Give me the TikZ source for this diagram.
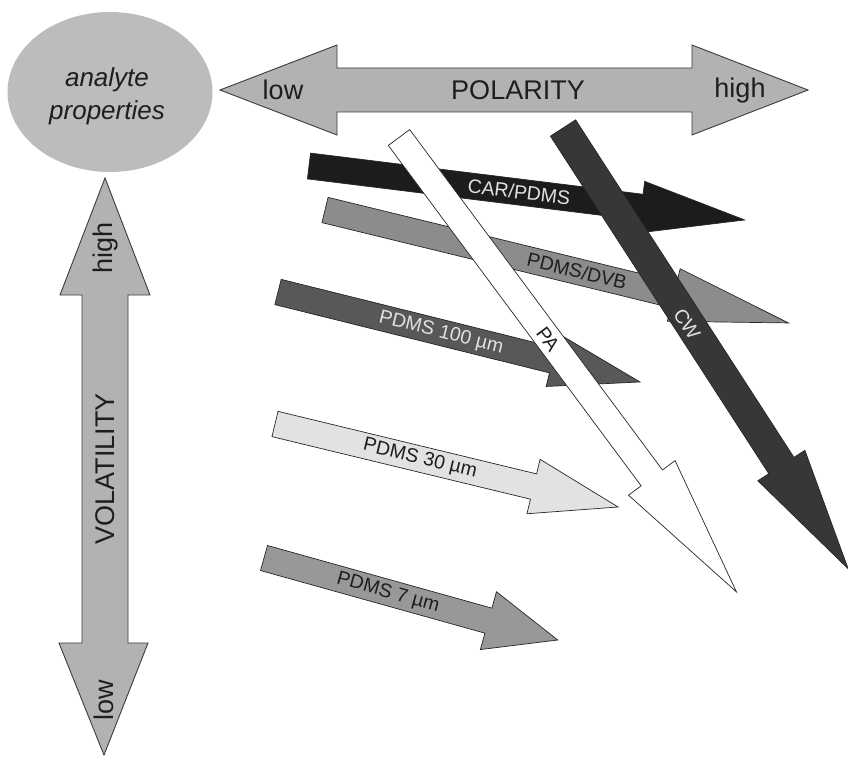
\documentclass[tikz,border=0pt]{standalone}
\usepackage{fontspec}
\setmainfont{Liberation Sans}
\usetikzlibrary{shapes.geometric}
\definecolor{axisfill}{RGB}{178,178,178}
\definecolor{axisline}{RGB}{60,60,60}
\definecolor{blobfill}{RGB}{188,188,188}
\definecolor{carfill}{RGB}{28,28,28}
\definecolor{dvbfill}{RGB}{140,140,140}
\definecolor{hundredfill}{RGB}{88,88,88}
\definecolor{thirtyfill}{RGB}{226,226,226}
\definecolor{sevenfill}{RGB}{152,152,152}
\definecolor{cwfill}{RGB}{55,55,55}
\definecolor{lighttext}{RGB}{225,225,225}
\definecolor{darktext}{RGB}{30,30,30}
\newcommand{\fiberarrow}[8]{%
  \begin{scope}[shift={(#2,#3)},rotate=#4]
    \path[#1] (0,#6) -- ({#5-#7},#6) -- ({#5-#7},#8) -- (#5,0) -- ({#5-#7},-#8) -- ({#5-#7},-#6) -- (0,-#6) -- cycle;
  \end{scope}}
\begin{document}
\begin{tikzpicture}[x=1pt,y=-1pt,
  axisarrow/.style={fill=axisfill,draw=axisline,line width=0.9pt,line join=miter},
  fiber/.style={draw=black!85,line width=0.7pt,line join=miter},
  axlbl/.style={font=\fontsize{27}{32}\selectfont,inner sep=0pt,text=darktext},
  lbl/.style={font=\fontsize{19.5}{23}\selectfont,inner sep=0pt}]
\useasboundingbox (0,0) rectangle (848,757);

% analyte properties blob
\node[ellipse,fill=blobfill,draw=none,minimum width=205,minimum height=160,inner sep=0pt] (blob) at (110,92) {};
\node[font=\fontsize{26}{33}\selectfont\itshape,align=center,inner sep=0pt,text=darktext] (blobtext) at (107,96) {analyte\\properties};

% polarity axis
\path[axisarrow] (220,90) -- (337,45) -- (337,68) -- (692,68) -- (692,45) -- (808,90)
  -- (692,135) -- (692,112) -- (337,112) -- (337,135) -- cycle;
\node[axlbl] (plow) at (283,90) {low};
\node[axlbl] (polarity) at (518,90) {POLARITY};
\node[axlbl] (phigh) at (740,91) {high};

% volatility axis
\path[axisarrow] (105,178) -- (150,295) -- (128,295) -- (128,643) -- (148,643) -- (104,755)
  -- (59,643) -- (82,643) -- (82,295) -- (60,295) -- cycle;
\node[axlbl,rotate=90] (vhigh) at (106,248) {high};
\node[axlbl,rotate=90] (volatility) at (105,469) {VOLATILITY};
\node[axlbl,rotate=90] (vlow) at (104,700) {low};

% fibre arrows (horizontal group)
\fiberarrow{fiber,fill=carfill}{309}{166}{-7.06}{439}{13}{104}{26}
\node[lbl,text=lighttext,rotate=-7.06] (car) at (519,192) {CAR/PDMS};

\fiberarrow{fiber,fill=dvbfill}{325}{210}{-13.7}{477}{13}{118}{27}
\node[lbl,text=darktext,rotate=-13.7] (dvb) at (577,271) {PDMS/DVB};

\fiberarrow{fiber,fill=hundredfill}{278}{292}{-13.96}{373}{13}{90}{27}
\node[lbl,text=lighttext,rotate=-13.96] (hundred) at (441,333) {PDMS 100 µm};

\fiberarrow{fiber,fill=thirtyfill}{275}{424}{-13.6}{353}{13}{87}{28}
\node[lbl,text=darktext,rotate=-13.6] (thirty) at (420,459) {PDMS 30 µm};

\fiberarrow{fiber,fill=sevenfill}{264}{558}{-15.6}{305}{13}{72}{30}
\node[lbl,text=darktext,rotate=-15.6] (seven) at (388,593) {PDMS 7 µm};

% fibre arrows (steep group)
\fiberarrow{fiber,fill=white}{399}{137.5}{-53.4}{566}{13.3}{142}{29}
\node[lbl,text=darktext,rotate=-53.4] (pa) at (548,339) {PA};

\fiberarrow{fiber,fill=cwfill}{563}{128}{-57.1}{525}{15}{123}{28}
\node[lbl,text=lighttext,rotate=-57.1] (cw) at (687,324) {CW};
\end{tikzpicture}
\end{document}
